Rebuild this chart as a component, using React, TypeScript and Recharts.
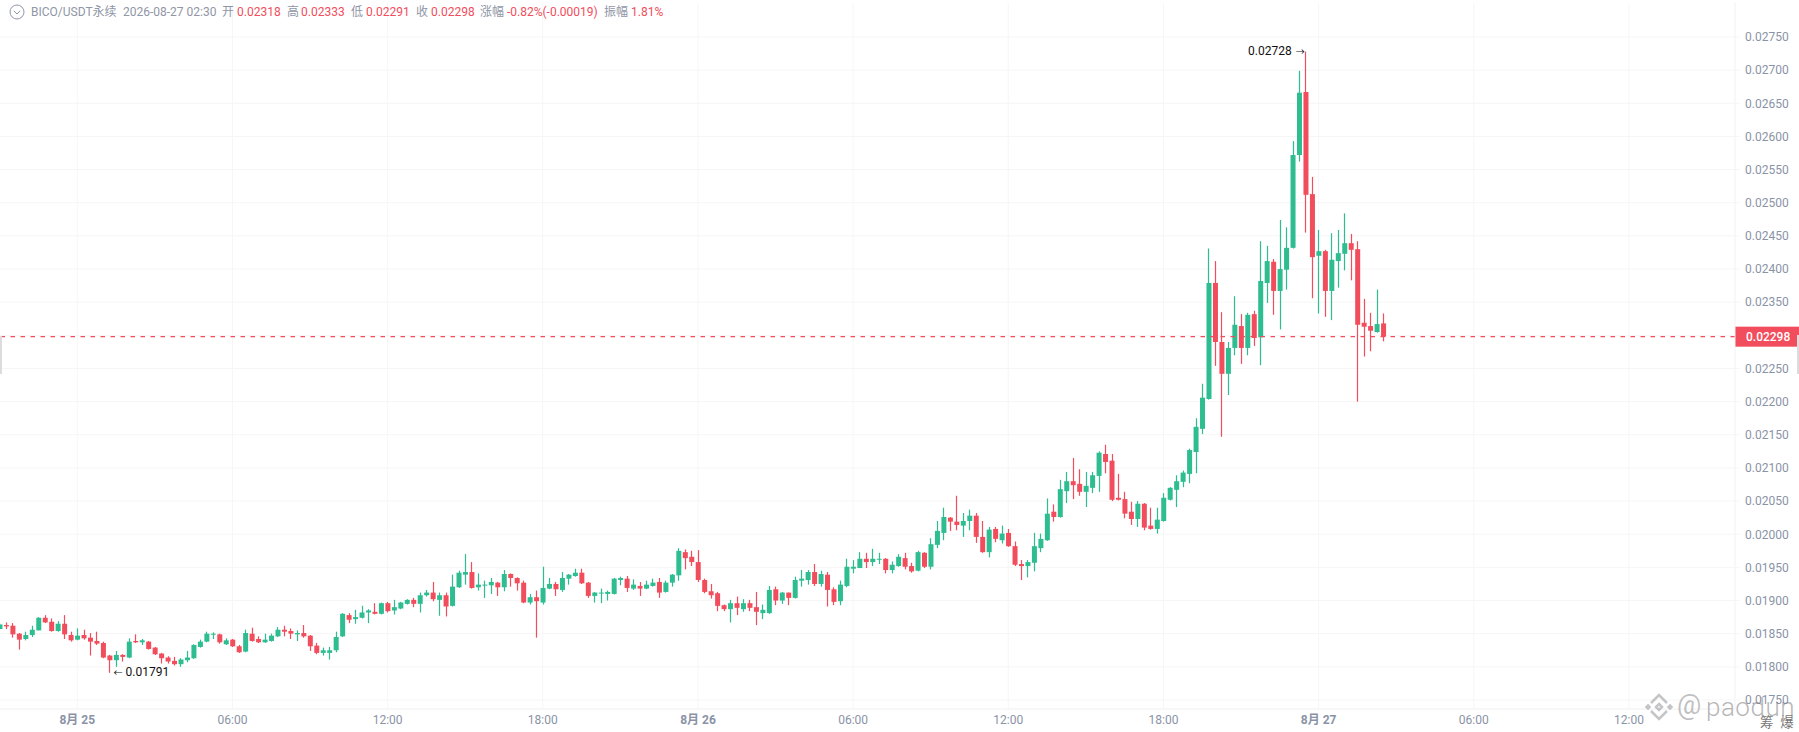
import React from "react";
import { Bar, CartesianGrid, ComposedChart, ReferenceDot, ReferenceLine, XAxis, YAxis } from "recharts";

const opens = [
0.01857,0.01863,0.01862,0.01850,0.01842,0.01848,0.01855,0.01874,0.01868,0.01854,
0.01865,0.01848,0.01841,0.01848,0.01844,0.01839,0.01836,0.01817,0.01810,0.01818,
0.01814,0.01839,0.01837,0.01838,0.01829,0.01820,0.01814,0.01809,0.01804,0.01810,
0.01813,0.01830,0.01838,0.01849,0.01849,0.01834,0.01841,0.01831,0.01823,0.01850,
0.01842,0.01837,0.01839,0.01846,0.01856,0.01854,0.01849,0.01851,0.01847,0.01832,
0.01821,0.01821,0.01825,0.01846,0.01878,0.01872,0.01874,0.01882,0.01883,0.01880,
0.01896,0.01885,0.01888,0.01895,0.01901,0.01895,0.01908,0.01912,0.01901,0.01908,
0.01892,0.01920,0.01939,0.01943,0.01920,0.01923,0.01923,0.01927,0.01920,0.01940,
0.01934,0.01927,0.01897,0.01905,0.01897,0.01918,0.01925,0.01916,0.01933,0.01937,
0.01942,0.01927,0.01907,0.01911,0.01910,0.01910,0.01931,0.01933,0.01918,0.01922,
0.01918,0.01922,0.01928,0.01913,0.01927,0.01938,0.01973,0.01966,0.01958,0.01931,
0.01914,0.01911,0.01893,0.01887,0.01896,0.01887,0.01896,0.01890,0.01881,0.01881,
0.01917,0.01900,0.01912,0.01904,0.01930,0.01931,0.01943,0.01925,0.01939,0.01917,
0.01899,0.01922,0.01948,0.01949,0.01963,0.01958,0.01962,0.01963,0.01946,0.01952,
0.01964,0.01952,0.01945,0.01972,0.01951,0.01984,0.02002,0.02025,0.02019,0.02013,
0.02020,0.02028,0.01996,0.01973,0.02008,0.01991,0.02002,0.01982,0.01955,0.01952,
0.01957,0.01979,0.01991,0.02034,0.02026,0.02065,0.02080,0.02076,0.02064,0.02070,
0.02088,0.02121,0.02111,0.02055,0.02053,0.02034,0.02023,0.02046,0.02013,0.02008,
0.02020,0.02052,0.02067,0.02079,0.02091,0.02124,0.02159,0.02204,0.02379,0.02290,
0.02242,0.02281,0.02314,0.02281,0.02332,0.02297,0.02379,0.02411,0.02367,0.02399,
0.02432,0.02572,0.02667,0.02513,0.02420,0.02427,0.02367,0.02412,0.02423,0.02439,
0.02430,0.02319,0.02314,0.02305,0.02318,
];
const highs = [
0.01866,0.01867,0.01866,0.01851,0.01853,0.01862,0.01875,0.01878,0.01873,0.01869,
0.01878,0.01853,0.01858,0.01856,0.01851,0.01853,0.01838,0.01818,0.01824,0.01819,
0.01843,0.01849,0.01842,0.01839,0.01830,0.01821,0.01816,0.01815,0.01813,0.01824,
0.01834,0.01841,0.01853,0.01852,0.01850,0.01843,0.01842,0.01833,0.01856,0.01859,
0.01846,0.01850,0.01850,0.01860,0.01862,0.01858,0.01855,0.01863,0.01848,0.01836,
0.01829,0.01830,0.01853,0.01881,0.01881,0.01886,0.01892,0.01887,0.01896,0.01897,
0.01898,0.01901,0.01898,0.01902,0.01904,0.01912,0.01916,0.01928,0.01912,0.01912,
0.01939,0.01945,0.01970,0.01958,0.01941,0.01930,0.01934,0.01928,0.01946,0.01941,
0.01935,0.01930,0.01910,0.01915,0.01951,0.01934,0.01928,0.01943,0.01940,0.01948,
0.01948,0.01928,0.01913,0.01918,0.01915,0.01934,0.01936,0.01937,0.01932,0.01928,
0.01930,0.01933,0.01934,0.01930,0.01940,0.01979,0.01977,0.01975,0.01976,0.01933,
0.01925,0.01913,0.01894,0.01901,0.01906,0.01902,0.01901,0.01913,0.01894,0.01922,
0.01921,0.01913,0.01912,0.01936,0.01946,0.01946,0.01955,0.01945,0.01943,0.01920,
0.01930,0.01963,0.01961,0.01973,0.01972,0.01978,0.01972,0.01964,0.01959,0.01970,
0.01972,0.01957,0.01975,0.01973,0.01994,0.02020,0.02040,0.02026,0.02058,0.02032,
0.02037,0.02032,0.02020,0.02011,0.02011,0.02013,0.02008,0.01989,0.01961,0.01961,
0.02002,0.02001,0.02054,0.02045,0.02082,0.02094,0.02115,0.02098,0.02094,0.02094,
0.02125,0.02135,0.02121,0.02091,0.02064,0.02049,0.02050,0.02047,0.02040,0.02040,
0.02062,0.02071,0.02089,0.02096,0.02129,0.02175,0.02227,0.02431,0.02412,0.02335,
0.02290,0.02359,0.02332,0.02334,0.02337,0.02442,0.02435,0.02415,0.02474,0.02463,
0.02593,0.02699,0.02728,0.02539,0.02459,0.02429,0.02454,0.02459,0.02484,0.02453,
0.02442,0.02355,0.02334,0.02369,0.02333,
];
const lows = [
0.01856,0.01857,0.01844,0.01826,0.01840,0.01845,0.01855,0.01866,0.01853,0.01853,
0.01842,0.01838,0.01840,0.01841,0.01817,0.01833,0.01813,0.01791,0.01800,0.01808,
0.01813,0.01836,0.01833,0.01826,0.01818,0.01805,0.01805,0.01802,0.01800,0.01807,
0.01812,0.01829,0.01837,0.01842,0.01835,0.01833,0.01830,0.01821,0.01822,0.01838,
0.01836,0.01836,0.01838,0.01845,0.01846,0.01842,0.01839,0.01844,0.01824,0.01819,
0.01817,0.01811,0.01822,0.01845,0.01866,0.01865,0.01873,0.01866,0.01879,0.01879,
0.01882,0.01879,0.01887,0.01894,0.01890,0.01882,0.01906,0.01899,0.01877,0.01876,
0.01891,0.01919,0.01924,0.01918,0.01915,0.01904,0.01910,0.01907,0.01914,0.01921,
0.01915,0.01896,0.01894,0.01844,0.01894,0.01917,0.01907,0.01913,0.01924,0.01936,
0.01925,0.01904,0.01897,0.01896,0.01900,0.01909,0.01923,0.01913,0.01916,0.01907,
0.01917,0.01921,0.01904,0.01912,0.01921,0.01930,0.01947,0.01952,0.01928,0.01911,
0.01903,0.01884,0.01884,0.01867,0.01878,0.01883,0.01884,0.01863,0.01872,0.01880,
0.01893,0.01895,0.01893,0.01903,0.01921,0.01924,0.01922,0.01921,0.01891,0.01893,
0.01893,0.01920,0.01941,0.01949,0.01949,0.01952,0.01955,0.01941,0.01941,0.01951,
0.01947,0.01942,0.01944,0.01949,0.01947,0.01979,0.01991,0.02005,0.02006,0.01996,
0.02006,0.01987,0.01972,0.01965,0.01988,0.01986,0.01981,0.01952,0.01931,0.01935,
0.01944,0.01973,0.01990,0.02019,0.02025,0.02047,0.02053,0.02058,0.02041,0.02062,
0.02064,0.02092,0.02050,0.02051,0.02024,0.02014,0.02011,0.02006,0.02007,0.02001,
0.02019,0.02051,0.02041,0.02071,0.02077,0.02092,0.02151,0.02203,0.02254,0.02147,
0.02210,0.02270,0.02257,0.02270,0.02284,0.02255,0.02349,0.02331,0.02309,0.02369,
0.02431,0.02562,0.02455,0.02356,0.02333,0.02328,0.02323,0.02372,0.02398,0.02383,
0.02200,0.02268,0.02276,0.02304,0.02291,
];
const closes = [
0.01864,0.01861,0.01849,0.01841,0.01848,0.01856,0.01874,0.01867,0.01854,0.01865,
0.01849,0.01840,0.01847,0.01843,0.01838,0.01835,0.01814,0.01810,0.01818,0.01815,
0.01838,0.01837,0.01840,0.01827,0.01819,0.01813,0.01808,0.01804,0.01811,0.01814,
0.01833,0.01838,0.01850,0.01850,0.01837,0.01840,0.01831,0.01822,0.01851,0.01839,
0.01837,0.01841,0.01847,0.01856,0.01853,0.01850,0.01851,0.01846,0.01831,0.01821,
0.01825,0.01825,0.01845,0.01880,0.01871,0.01875,0.01882,0.01885,0.01880,0.01896,
0.01884,0.01890,0.01897,0.01901,0.01895,0.01908,0.01912,0.01902,0.01908,0.01891,
0.01921,0.01942,0.01943,0.01919,0.01924,0.01924,0.01928,0.01920,0.01940,0.01934,
0.01926,0.01897,0.01905,0.01899,0.01919,0.01925,0.01917,0.01934,0.01939,0.01942,
0.01926,0.01907,0.01912,0.01912,0.01913,0.01933,0.01934,0.01919,0.01924,0.01918,
0.01924,0.01927,0.01912,0.01927,0.01939,0.01975,0.01964,0.01958,0.01931,0.01913,
0.01908,0.01892,0.01887,0.01896,0.01889,0.01896,0.01889,0.01883,0.01886,0.01916,
0.01900,0.01912,0.01904,0.01931,0.01933,0.01943,0.01925,0.01940,0.01916,0.01898,
0.01924,0.01951,0.01951,0.01963,0.01958,0.01963,0.01963,0.01946,0.01954,0.01966,
0.01951,0.01944,0.01973,0.01951,0.01985,0.02005,0.02026,0.02019,0.02014,0.02020,
0.02028,0.01996,0.01973,0.02007,0.01993,0.02001,0.01982,0.01954,0.01952,0.01958,
0.01982,0.01993,0.02031,0.02026,0.02068,0.02080,0.02074,0.02064,0.02073,0.02089,
0.02123,0.02109,0.02052,0.02052,0.02031,0.02023,0.02046,0.02010,0.02008,0.02022,
0.02055,0.02070,0.02080,0.02093,0.02127,0.02162,0.02206,0.02379,0.02290,0.02242,
0.02281,0.02316,0.02281,0.02331,0.02296,0.02382,0.02412,0.02367,0.02400,0.02432,
0.02572,0.02666,0.02512,0.02418,0.02427,0.02367,0.02414,0.02424,0.02439,0.02429,
0.02316,0.02313,0.02307,0.02317,0.02298,
];

const xTicks = [12, 36, 60, 84, 108, 132, 156, 180, 204, 228, 252];
const xTickLabels = ["8月 25", "06:00", "12:00", "18:00", "8月 26", "06:00", "12:00", "18:00", "8月 27", "06:00", "12:00"];
const boldTicks = [12, 108, 204];
const yTicks = [
  0.0175, 0.018, 0.0185, 0.019, 0.0195, 0.02, 0.0205, 0.021, 0.0215, 0.022, 0.0225, 0.0235,
  0.024, 0.0245, 0.025, 0.0255, 0.026, 0.0265, 0.027, 0.0275,
];
const gridYTicks = [...yTicks, 0.023];

const lastPrice = 0.02298;
const highPoint = { slot: 202, price: 0.02728 };
const lowPoint = { slot: 17, price: 0.01791 };

const headerLabels = [
  { text: "BICO/USDT永续", left: 31, color: "#8f96a6" },
  { text: "2026-08-27 02:30", left: 123, color: "#8f96a6" },
  { text: "开", left: 222, color: "#8f96a6" },
  { text: "0.02318", left: 237, color: "#f14d5c" },
  { text: "高", left: 287, color: "#8f96a6" },
  { text: "0.02333", left: 301, color: "#f14d5c" },
  { text: "低", left: 351, color: "#8f96a6" },
  { text: "0.02291", left: 366, color: "#f14d5c" },
  { text: "收", left: 416, color: "#8f96a6" },
  { text: "0.02298", left: 431, color: "#f14d5c" },
  { text: "涨幅", left: 480, color: "#8f96a6" },
  { text: "-0.82%(-0.00019)", left: 507, color: "#f14d5c" },
  { text: "振幅", left: 604, color: "#8f96a6" },
  { text: "1.81%", left: 631, color: "#f14d5c" },
];

const rows = opens.map((open, i) => ({ slot: i, open, high: highs[i], low: lows[i], close: closes[i] }));

const UP = "#2ebd90";
const DOWN = "#f14d5c";
const FONT = "Roboto, 'Noto Sans CJK SC', sans-serif";
const AXIS_TEXT = "#8a93a6";
const GRID = "#f6f6f7";

function Candle(props: any) {
  const { x, y, width, height, payload } = props;
  const h = Math.abs(height);
  const top = height < 0 ? y + height : y;
  const { open, high, low, close } = payload;
  const perPrice = h / (high - low);
  const bodyTop = top + (high - Math.max(open, close)) * perPrice;
  const bodyH = Math.max(1, Math.abs(open - close) * perPrice);
  const cx = x + width / 2;
  const color = close >= open ? UP : DOWN;
  return (
    <g>
      <rect x={Math.round(cx - 0.5) - 0.1} y={top} width={1.2} height={h} fill={color} />
      <rect x={cx - width / 2} y={bodyTop} width={width} height={bodyH} fill={color} />
    </g>
  );
}

function TimeTick(props: any) {
  const { x, payload } = props;
  const idx = xTicks.indexOf(payload.value);
  const bold = boldTicks.includes(payload.value);
  return (
    <text x={x} y={724} textAnchor="middle" fontFamily={FONT} fontSize={12} fontWeight={bold ? 700 : 400} fill={AXIS_TEXT}>
      {xTickLabels[idx]}
    </text>
  );
}

function PriceTag(props: any) {
  const { viewBox } = props;
  const right = viewBox.x + viewBox.width;
  const y = viewBox.y;
  return (
    <g>
      <rect x={right} y={y - 10} width={64} height={20} fill={DOWN} />
      <text x={right + 11} y={y + 4.2} fontFamily={FONT} fontSize={12} fontWeight={500} fill="#fff">
        {lastPrice.toFixed(5)}
      </text>
    </g>
  );
}

function ExtremeLabel(props: any) {
  const { viewBox, side, value } = props;
  const cx = viewBox.x + viewBox.width / 2;
  const cy = viewBox.y + viewBox.height / 2;
  const left = side === "left";
  return (
    <g fontFamily={FONT} fill="#111">
      <text x={left ? cx - 14 : cx + 16} y={cy + 3} textAnchor={left ? "end" : "start"} fontSize={12}>
        {value.toFixed(5)}
      </text>
      <text x={left ? cx - 10 : cx + 4} y={cy + 3} textAnchor="start" fontSize={9}>
        {left ? "→" : "←"}
      </text>
    </g>
  );
}

function Watermark() {
  const d = (cx: number, cy: number, r: number) => `${cx},${cy - r} ${cx + r},${cy} ${cx},${cy + r} ${cx - r},${cy}`;
  return (
    <svg style={{ position: "absolute", left: 1644, top: 692, pointerEvents: "none" }} width={30} height={30}>
      <g fill="none" stroke="rgba(150,150,155,0.55)" strokeWidth={2.5}>
        <polygon points={d(15, 15, 3)} />
        <polyline points="7,11 15,3 23,11" />
        <polyline points="7,19 15,27 23,19" />
        <polygon points={d(4, 15, 1.5)} />
        <polygon points={d(26, 15, 1.5)} />
      </g>
    </svg>
  );
}

export default function App() {
  return (
    <div style={{ position: "fixed", left: 0, top: 0, width: 1799, height: 732, overflow: "hidden", background: "#fff", fontFamily: FONT }}>
      <ComposedChart width={1799} height={732} data={rows} margin={{ top: 3, right: 0, bottom: 0, left: 0 }}>
        <CartesianGrid stroke={GRID} horizontalValues={gridYTicks} verticalValues={xTicks} />
        <XAxis
          dataKey="slot"
          type="number"
          domain={[0.046, 268.4]}
          allowDataOverflow
          ticks={xTicks}
          interval={0}
          height={23}
          tick={<TimeTick />}
          tickLine={false}
          axisLine={{ stroke: "#f0f0f1" }}
        />
        <YAxis
          orientation="right"
          type="number"
          width={64}
          domain={[0.017364, 0.028013]}
          allowDataOverflow
          ticks={yTicks}
          interval={0}
          tickSize={5}
          tickMargin={5}
          tickFormatter={(v: number) => v.toFixed(5)}
          tick={{ fontFamily: FONT, fontSize: 12, fill: AXIS_TEXT }}
          tickLine={{ stroke: GRID }}
          axisLine={{ stroke: "#f2f2f3" }}
        />
        <Bar dataKey={(d: any) => [d.low, d.high]} barSize={5} shape={<Candle />} isAnimationActive={false} />
        <ReferenceLine y={lastPrice} stroke={DOWN} strokeDasharray="4.5 5.5" strokeWidth={1.2} label={<PriceTag />} />
        <ReferenceDot x={highPoint.slot} y={highPoint.price} r={0} fill="none" stroke="none"
          label={<ExtremeLabel side="left" value={highPoint.price} />} />
        <ReferenceDot x={lowPoint.slot} y={lowPoint.price} r={0} fill="none" stroke="none"
          label={<ExtremeLabel side="right" value={lowPoint.price} />} />
      </ComposedChart>

      <svg style={{ position: "absolute", left: 9, top: 4 }} width={16} height={16}>
        <circle cx={8} cy={8} r={7} fill="none" stroke="#8f96a6" strokeWidth={1} />
        <polyline points="4.8,6.8 8,10 11.2,6.8" fill="none" stroke="#8f96a6" strokeWidth={1} />
      </svg>
      {headerLabels.map((h) => (
        <span key={h.left} style={{ position: "absolute", left: h.left, top: 5, fontSize: 12, lineHeight: "14px", color: h.color, whiteSpace: "nowrap" }}>
          {h.text}
        </span>
      ))}

      <div style={{ position: "absolute", left: 0, top: 336, width: 2, height: 38, background: "#dcdcdc" }} />
      <div style={{ position: "absolute", left: 1797, top: 335, width: 2, height: 39, background: "#dcdcdc" }} />

      <Watermark />
      <span style={{ position: "absolute", left: 1677, top: 689, fontSize: 27, lineHeight: "32px", color: "rgba(140,140,145,0.55)", whiteSpace: "nowrap" }}>@</span>
      <span style={{ position: "absolute", left: 1706, top: 691, fontSize: 26, lineHeight: "32px", fontWeight: 300, color: "rgba(120,120,125,0.55)", whiteSpace: "nowrap", letterSpacing: 0.5 }}>paodun</span>
      <span style={{ position: "absolute", left: 1760, top: 714, fontSize: 13.5, lineHeight: "16px", color: "#777", whiteSpace: "pre" }}>筹  爆</span>
    </div>
  );
}
